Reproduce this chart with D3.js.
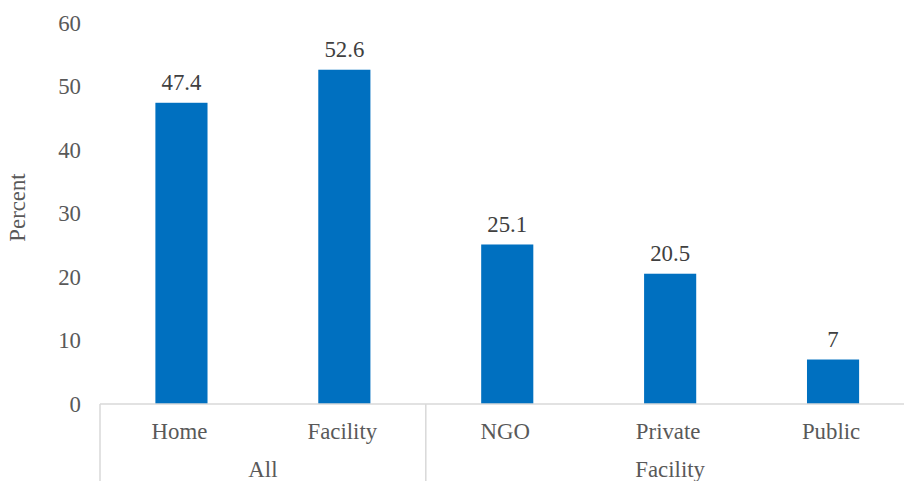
<!DOCTYPE html>
<html><head><meta charset="utf-8">
<script src="https://cdn.jsdelivr.net/npm/d3@7"></script>
<style>body{margin:0;background:#fff}svg{display:block}</style>
</head><body>
<svg id="c" width="904" height="481"></svg>
<script>
const categories = ["Home","Facility","NGO","Private","Public"];
const groups = ["All","All","Facility","Facility","Facility"];
const groupNames = ["All","Facility"];
const values = [47.4,52.6,25.1,20.5,7];
const labels = ["47.4","52.6","25.1","20.5","7"];
const yTicks = [0,10,20,30,40,50,60];

(function(){
const svg = d3.select("#c");
const font = "'Liberation Serif','Times New Roman',serif";
const textCol = "#595959";
const fs = 22.8;
const pLeft = 100, pRight = 914.5, pTop = 22.7, pBottom = 404;

const x = d3.scaleBand().domain(d3.range(categories.length)).range([pLeft,pRight]).paddingInner(0.68).paddingOuter(0.34);
const y = d3.scaleLinear().domain([0,60]).range([pBottom,pTop]);

svg.append("g").selectAll("text").data(yTicks).join("text")
  .attr("x",81).attr("y",d=>y(d)).attr("dy","0.35em").attr("text-anchor","end")
  .attr("font-family",font).attr("font-size",fs).attr("fill",textCol).text(d=>d);

svg.append("text").attr("transform","translate(25,207.5) rotate(-90)")
  .attr("text-anchor","middle").attr("font-family",font).attr("font-size",fs).attr("fill",textCol).text("Percent");

svg.append("g").selectAll("rect").data(values).join("rect")
  .attr("x",(d,i)=>x(i)).attr("width",x.bandwidth())
  .attr("y",d=>y(d)).attr("height",d=>pBottom-y(d)).attr("fill","#0070C0");

svg.append("g").selectAll("text").data(values).join("text")
  .attr("x",(d,i)=>x(i)+x.bandwidth()/2).attr("y",d=>y(d)-12.7)
  .attr("text-anchor","middle").attr("font-family",font).attr("font-size",fs).attr("fill","#404040")
  .text((d,i)=>labels[i]);

svg.append("line").attr("x1",pLeft).attr("x2",pRight).attr("y1",pBottom).attr("y2",pBottom)
  .attr("stroke","#d9d9d9").attr("stroke-width",1.5);

const step = x.step();
const bounds = [pLeft];
groupNames.forEach(g=>{ const idx = groups.lastIndexOf(g); bounds.push(pLeft + (idx+1)*step); });
svg.append("g").selectAll("line").data(bounds).join("line")
  .attr("x1",d=>d).attr("x2",d=>d).attr("y1",pBottom).attr("y2",481)
  .attr("stroke","#d9d9d9").attr("stroke-width",1.5);

svg.append("g").selectAll("text").data(categories).join("text")
  .attr("x",(d,i)=>x(i)+x.bandwidth()/2-2).attr("y",439)
  .attr("text-anchor","middle").attr("font-family",font).attr("font-size",fs).attr("fill",textCol).text(d=>d);

svg.append("g").selectAll("text").data(groupNames).join("text")
  .attr("x",(g,k)=>(bounds[k]+bounds[k+1])/2).attr("y",477)
  .attr("text-anchor","middle").attr("font-family",font).attr("font-size",fs).attr("fill",textCol).text(d=>d);
})();
</script>
</body></html>
